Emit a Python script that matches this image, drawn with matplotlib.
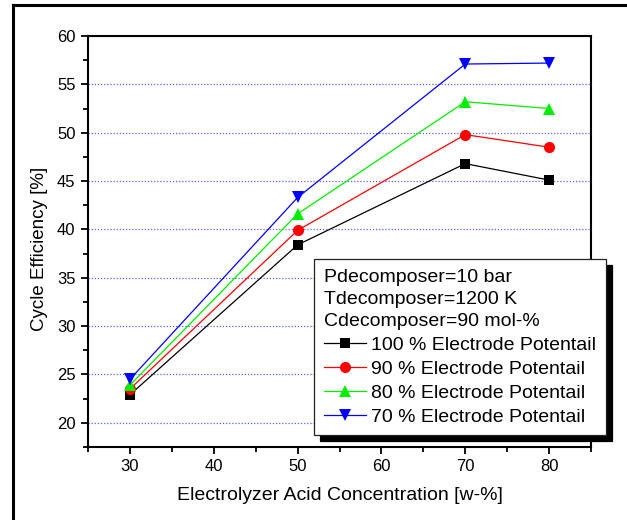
import matplotlib
matplotlib.use("Agg")
import matplotlib.pyplot as plt
from matplotlib.lines import Line2D
from matplotlib.ticker import MultipleLocator

plt.rcParams['font.family'] = ['Liberation Sans', 'DejaVu Sans']

# Electrolyzer acid concentration [w-%]
concentration = [30, 50, 70, 80]

# Cycle efficiency [%] for each electrode potential level
eff_100 = [22.9, 38.4, 46.8, 45.1]
eff_90 = [23.5, 39.9, 49.8, 48.5]
eff_80 = [23.9, 41.6, 53.2, 52.5]
eff_70 = [24.5, 43.3, 57.1, 57.2]

series_labels = ["100 % Electrode Potentail", "90 % Electrode Potentail",
                 "80 % Electrode Potentail", "70 % Electrode Potentail"]
conditions = ["Pdecomposer=10 bar", "Tdecomposer=1200 K", "Cdecomposer=90 mol-%"]

fig = plt.figure(figsize=(6.27, 5.2), dpi=100)
ax = fig.add_axes([0.1404, 0.1404, 0.8022, 0.7904])

styles = [("black", "s", 7), ("red", "o", 8), ("#00ee00", "^", 8.5), ("blue", "v", 8.5)]
series = [eff_100, eff_90, eff_80, eff_70]
handles = []
for vals, (col, mk, ms), lab in zip(series, styles, series_labels):
    h, = ax.plot(concentration, vals, color=col, marker=mk, markersize=ms,
                 linewidth=0.9, markeredgewidth=0, label=lab, zorder=3)
    handles.append(h)

ax.set_xlim(25, 85)
ax.set_ylim(17.5, 60)
ax.xaxis.set_major_locator(MultipleLocator(10))
ax.xaxis.set_minor_locator(MultipleLocator(5))
ax.yaxis.set_major_locator(MultipleLocator(5))
ax.yaxis.set_minor_locator(MultipleLocator(2.5))
ax.tick_params(which='both', direction='out', width=1.3, labelsize=12, pad=4)
ax.tick_params(which='major', length=5)
ax.tick_params(which='minor', length=3.5)
for s in ax.spines.values():
    s.set_linewidth(1.5)

ax.grid(axis='y', which='major', color='#6060ff', linestyle=(0, (1, 1.5)), linewidth=0.9)
ax.set_axisbelow(True)

ax.set_xlabel("Electrolyzer Acid Concentration [w-%]", fontsize=14, labelpad=9)
ax.set_ylabel("Cycle Efficiency [%]", fontsize=13.5)
ax.yaxis.set_label_coords(-0.08, 0.482)

# Legend: operating conditions as title, series below
leg = ax.legend(handles=handles, loc='upper left',
                bbox_to_anchor=(314 / 627, 1 - 259 / 520), bbox_transform=fig.transFigure,
                borderaxespad=0, fontsize=14, title="\n".join(conditions),
                title_fontsize=14, alignment='left', frameon=True, fancybox=False,
                framealpha=1, edgecolor='#222222', handlelength=2.15, handletextpad=0.3,
                labelspacing=0.33, borderpad=0.5,
                shadow={'ox': 4.3, 'oy': -4.3, 'facecolor': 'black', 'edgecolor': 'black', 'alpha': 1})
leg.get_title().set_multialignment('left')
leg.get_title().set_linespacing(1.38)
leg.get_frame().set_linewidth(0.9)

# Outer frame lines along the left and top edges of the figure
fig.add_artist(Line2D([13 / 627, 13 / 627], [0, 1 - 5 / 520], transform=fig.transFigure,
                      color='black', linewidth=2.2))
fig.add_artist(Line2D([13 / 627, 1], [1 - 5 / 520, 1 - 5 / 520], transform=fig.transFigure,
                      color='black', linewidth=2.2))

fig.savefig("out.png", dpi=100)
